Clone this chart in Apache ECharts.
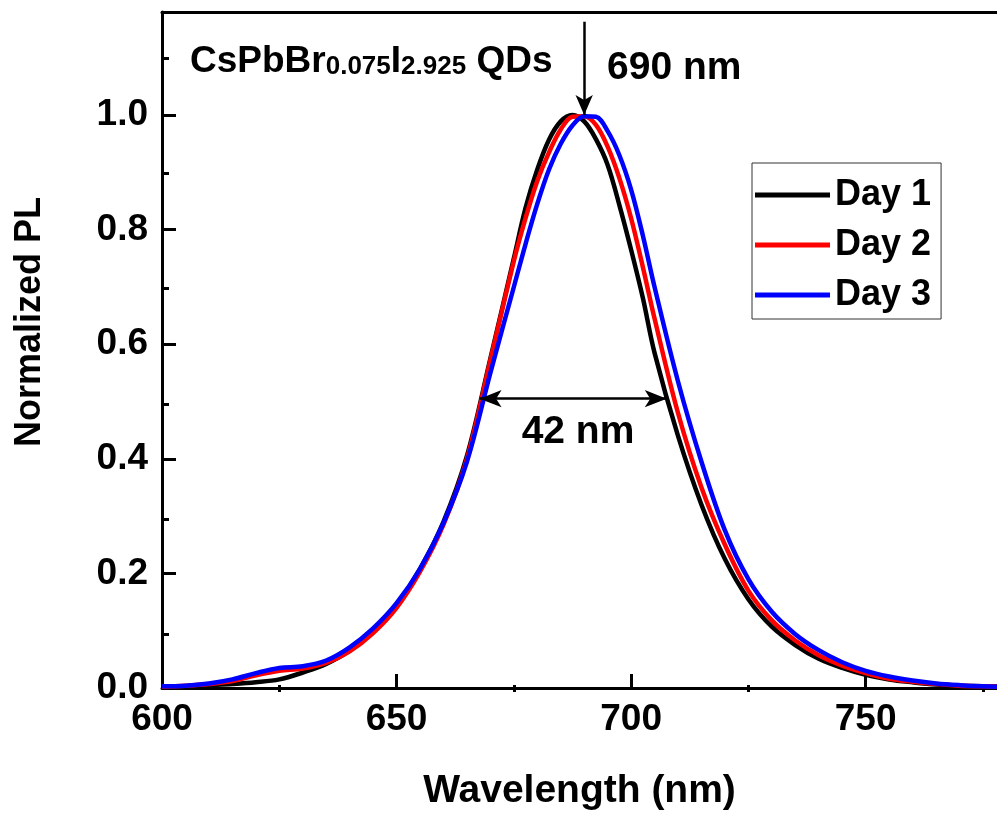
<!DOCTYPE html>
<html>
<head>
<meta charset="utf-8">
<script src="https://cdn.jsdelivr.net/npm/echarts@6/dist/echarts.min.js"></script>
<style>
html,body{margin:0;padding:0;background:#fff;}
#chart{width:997px;height:816px;}
</style>
</head>
<body>
<div id="chart"></div>
<script>
// Wavelength grid (nm)
const wavelengths = [600,605,610,615,620,625,630,635,640,645,650,655,660,665,670,
  675,677.5,680,682.5,685,687.5,690,692.5,695,697.5,700,702.5,
  705,710,715,720,725,730,735,740,745,750,755,760,765,770,775,780];
// Normalized PL, Day 1 (black)
const day1 = [0.002,0.003,0.005,0.007,0.010,0.015,0.027,0.042,0.065,0.100,0.145,0.208,0.290,0.405,0.575,
  0.750,0.838,0.905,0.957,0.989,1.000,0.989,0.958,0.913,0.843,0.765,0.681,
  0.585,0.440,0.320,0.225,0.155,0.107,0.075,0.051,0.035,0.023,0.015,0.010,0.006,0.004,0.003,0.002];
// Day 2 (red)
const day2 = [0.002,0.004,0.007,0.012,0.022,0.030,0.034,0.044,0.064,0.096,0.140,0.203,0.285,0.400,0.572,
  0.745,0.820,0.885,0.935,0.975,0.997,0.998,0.983,0.945,0.890,0.820,0.735,
  0.645,0.480,0.350,0.250,0.170,0.118,0.083,0.057,0.039,0.026,0.016,0.011,0.007,0.004,0.003,0.002];
// Day 3 (blue)
const day3 = [0.003,0.004,0.008,0.015,0.026,0.035,0.038,0.048,0.071,0.104,0.148,0.208,0.288,0.395,0.550,
  0.700,0.775,0.845,0.905,0.950,0.982,0.998,0.997,0.972,0.930,0.870,0.790,
  0.700,0.535,0.395,0.275,0.190,0.133,0.094,0.066,0.045,0.030,0.020,0.013,0.008,0.005,0.003,0.002];

const seriesNames = ['Day 1','Day 2','Day 3'];
const seriesColors = ['#000000','#ff0000','#0000ff'];
const seriesValues = [day1, day2, day3];

const xMajorTicks = [600,650,700,750];
const xMinorTicks = [625,675,725,775];
const yMajorTicks = [0,0.2,0.4,0.6,0.8,1.0];
const yMinorTicks = [0.1,0.3,0.5,0.7,0.9,1.1];

// annotations (data coordinates)
const peakArrow = [[690,1.163],[690,1.0]];
const fwhmArrow = [[667.7,0.505],[707.6,0.505]];

const FONT = 'Liberation Sans, Arial, Helvetica, sans-serif';
const chart = echarts.init(document.getElementById('chart'));

function pairs(vals){ return wavelengths.map((w,i)=>[w, vals[i]]); }

const series = seriesNames.map((n,i)=>({
  name:n, type:'line', data:pairs(seriesValues[i]), smooth:0.35, showSymbol:false, symbol:'none',
  xAxisIndex:0, yAxisIndex:0,
  lineStyle:{color:seriesColors[i], width:4.5}, itemStyle:{color:seriesColors[i]},
  z: 2+i, silent:true
}));
series.push({
  type:'line', data:[], xAxisIndex:0, yAxisIndex:0, silent:true, z:10,
  markLine:{
    silent:true, animation:false,
    label:{show:false},
    lineStyle:{color:'#000', width:2.5, type:'solid'},
    data:[
      [{coord:peakArrow[0], symbol:'none'},{coord:peakArrow[1], symbol:'arrow', symbolSize:[13,20]}],
      [{coord:fwhmArrow[0], symbol:'arrow', symbolSize:[13,22]},{coord:fwhmArrow[1], symbol:'arrow', symbolSize:[13,22]}]
    ]
  }
});

const axisLineStyle = {color:'#000', width:3};
chart.setOption({
  animation:false,
  backgroundColor:'#fff',
  grid:[
    {left:162, right:0, top:12, bottom:124, containLabel:false},
    {left:162, right:0, top:12, bottom:124, containLabel:false}
  ],
  xAxis:[
    {type:'value', gridIndex:0, position:'bottom', min:600, max:778, interval:50,
     axisLine:{show:true, onZero:false, lineStyle:axisLineStyle},
     axisTick:{show:true, inside:true, length:14, lineStyle:{color:'#000', width:3}, customValues:xMajorTicks},
     axisLabel:{show:true, margin:13, customValues:xMajorTicks, color:'#000', fontSize:37, fontWeight:'bold', fontFamily:FONT},
     splitLine:{show:false},
     name:'Wavelength (nm)', nameLocation:'middle', nameGap:84,
     nameTextStyle:{color:'#000', fontSize:39, fontWeight:'bold', fontFamily:FONT}
    },
    {type:'value', gridIndex:0, position:'top', min:600, max:778, interval:50,
     axisLine:{show:true, onZero:false, lineStyle:axisLineStyle},
     axisTick:{show:false}, axisLabel:{show:false}, splitLine:{show:false}},
    {type:'value', gridIndex:1, position:'bottom', min:600, max:778, interval:50,
     axisLine:{show:false, onZero:false},
     axisTick:{show:true, inside:true, length:7, lineStyle:{color:'#000', width:3}, customValues:xMinorTicks},
     axisLabel:{show:false}, splitLine:{show:false}}
  ],
  yAxis:[
    {type:'value', gridIndex:0, position:'left', min:0, max:1.18, interval:0.2,
     axisLine:{show:true, onZero:false, lineStyle:axisLineStyle},
     axisTick:{show:true, inside:true, length:14, lineStyle:{color:'#000', width:3}, customValues:yMajorTicks},
     axisLabel:{show:true, margin:14, customValues:yMajorTicks, formatter:v=>Number(v).toFixed(1), color:'#000', fontSize:37, fontWeight:'bold', fontFamily:FONT},
     splitLine:{show:false}},
    {type:'value', gridIndex:1, position:'left', min:0, max:1.18, interval:0.2,
     axisLine:{show:false, onZero:false},
     axisTick:{show:true, inside:true, length:7, lineStyle:{color:'#000', width:3}, customValues:yMinorTicks},
     axisLabel:{show:false}, splitLine:{show:false}}
  ],
  legend:{
    show:true, data:seriesNames, orient:'vertical', left:752, top:163, right:'auto', bottom:'auto',
    borderColor:'#333', borderWidth:1, padding:[12,10,4,3],
    icon:'rect', itemWidth:75, itemHeight:5, itemGap:10,
    textStyle:{color:'#000', fontSize:36, fontWeight:'bold', fontFamily:FONT, lineHeight:40},
    selectedMode:false
  },
  graphic:[
    {type:'text', x:190, y:80, silent:true,
     style:{text:'{a|CsPbBr}{b|0.075}{a|I}{b|2.925}{a| QDs}', verticalAlign:'bottom',
       rich:{a:{fontSize:37, fontWeight:'bold', fontFamily:FONT, fill:'#000', verticalAlign:'bottom', lineHeight:37},
             b:{fontSize:26, fontWeight:'bold', fontFamily:FONT, fill:'#000', verticalAlign:'bottom', lineHeight:26}}}},
    {type:'text', x:607, y:68, silent:true,
     style:{text:'690 nm', fontSize:39, fontWeight:'bold', fontFamily:FONT, fill:'#000', verticalAlign:'middle'}},
    {type:'text', x:578, y:432, silent:true,
     style:{text:'42 nm', fontSize:39, fontWeight:'bold', fontFamily:FONT, fill:'#000', align:'center', verticalAlign:'middle'}},
    {type:'text', x:30, y:322, rotation:Math.PI/2, silent:true,
     style:{text:'Normalized PL', fontSize:36, fontWeight:'bold', fontFamily:FONT, fill:'#000', align:'center', verticalAlign:'middle'}}
  ],
  series:series
});
</script>
</body>
</html>
